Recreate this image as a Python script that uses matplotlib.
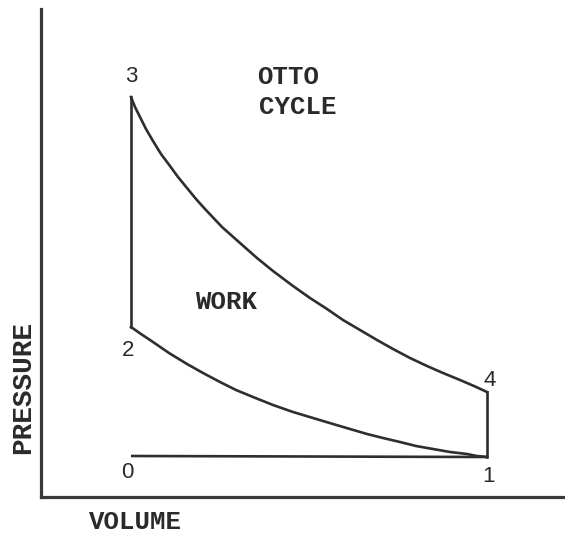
import matplotlib
matplotlib.use("Agg")
import matplotlib.pyplot as plt

# Otto cycle diagram, arbitrary units (volume, pressure)
v_tdc = 90      # state 2/3 volume
v_bdc = 446     # state 1/4 volume
p_atm = 40      # state 0/1 pressure

# expansion 3 -> 4
exp_v = [90, 94, 99, 105, 112, 120, 129, 137, 146, 155, 164, 181, 199, 216, 232, 252, 269, 286, 302,
         319, 336, 352, 369, 386, 402, 419, 433, 446]
exp_p = [400, 390, 380, 368, 356, 343, 331, 320, 309, 298, 288, 270, 254, 239, 226, 211, 199, 188, 177,
         167, 157, 148, 139, 131, 124, 117, 111, 105]
# compression 1 -> 2 (listed from 2 to 1)
cmp_v = [90, 100, 112, 128, 146, 162, 179, 195, 212, 232, 252, 272, 292, 309, 326, 342, 359, 375,
         392, 409, 426, 436, 446]
cmp_p = [170, 163, 155, 144, 133, 124, 115, 107, 100, 92, 85, 79, 73, 68, 63, 59, 55, 51,
         48, 45, 43, 41, 40]

state_labels = ["0", "1", "2", "3", "4"]

W, H = 565, 541
fig = plt.figure(figsize=(W / 100, H / 100), dpi=100)
ox, oy, top = 41, 497, 9
ax = fig.add_axes([ox / W, (H - oy) / H, (W - ox) / W, (oy - top) / H])
ax.set_xlim(0, W - ox)
ax.set_ylim(0, oy - top)
for s in ["top", "right"]:
    ax.spines[s].set_visible(False)
for s in ["left", "bottom"]:
    ax.spines[s].set_linewidth(2.3)
    ax.spines[s].set_color("#3a3a3a")
ax.set_xticks([])
ax.set_yticks([])
ax.patch.set_alpha(0)

lc = "#2e2e2e"
lw = 1.9
# intake/exhaust line 0-1
ax.plot([v_tdc, v_bdc], [p_atm + 1, p_atm], color=lc, lw=lw, solid_capstyle="butt")
# compression 1-2
ax.plot(cmp_v, cmp_p, color=lc, lw=lw)
# heat addition 2-3
ax.plot([v_tdc, v_tdc], [cmp_p[0], exp_p[0]], color=lc, lw=lw)
# expansion 3-4
ax.plot(exp_v, exp_p, color=lc, lw=lw)
# blowdown 4-1
ax.plot([v_bdc, v_bdc], [exp_p[-1], p_atm], color=lc, lw=lw)

tc = "#2a2a2a"
num_font = dict(family="Liberation Sans", fontsize=16, color=tc, ha="center", va="center")
label_pos = {
    "0": (v_tdc - 4, p_atm - 15),
    "1": (v_bdc + 1, p_atm - 19),
    "2": (v_tdc - 3, cmp_p[0] - 23),
    "3": (v_tdc, exp_p[0] + 20),
    "4": (v_bdc + 3, exp_p[-1] + 12),
}
for lab in state_labels:
    x, y = label_pos[lab]
    ax.text(x, y, lab, clip_on=False, **num_font)

title_font = dict(family="Liberation Mono", fontweight="bold", fontsize=18.5, color=tc)
ax.text(216, 420, "OTTO", ha="left", va="center", **title_font)
ax.text(218, 390, "CYCLE", ha="left", va="center", **title_font)
ax.text(185, 195, "WORK", ha="center", va="center", **title_font)
ax.text(94, -25, "VOLUME", ha="center", va="center", clip_on=False, **title_font)
ax.text(-18, 109, "PRESSURE", ha="center", va="center", rotation=90, clip_on=False,
        family="Liberation Mono", fontweight="bold", fontsize=20, color=tc)

fig.savefig("out.png", dpi=100, facecolor="white")
